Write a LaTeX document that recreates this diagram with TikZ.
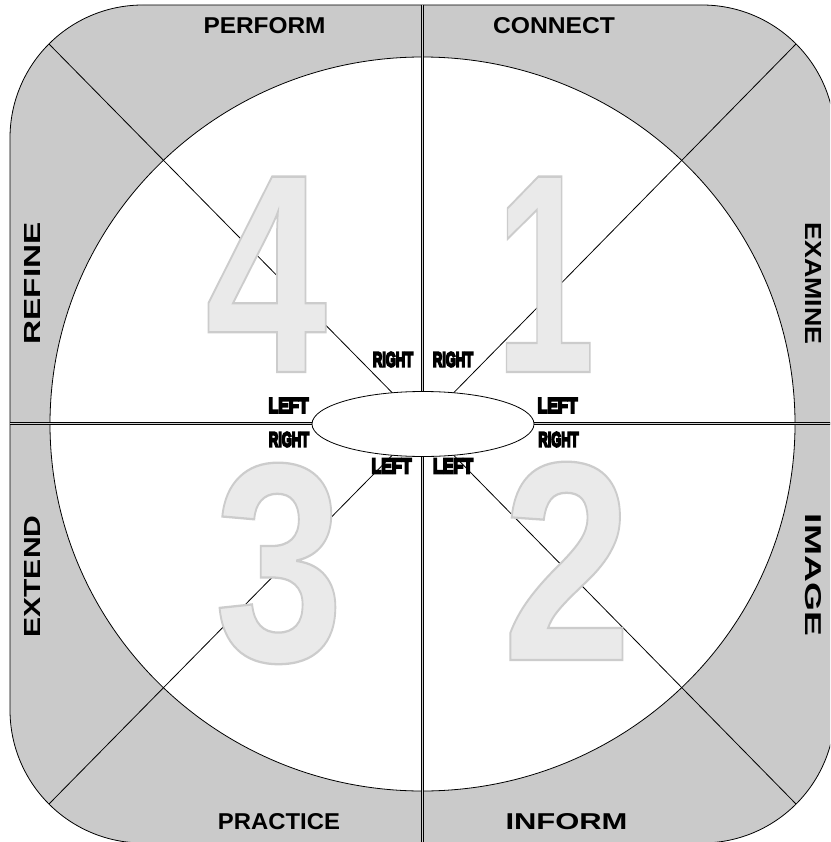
\documentclass[tikz,border=0pt]{standalone}
\usepackage{graphicx}
\usepackage{fontspec}
\setmainfont{Liberation Sans}
\newfontfamily\labfont{Liberation Sans}[UprightFont={* Bold}]
\newfontfamily\impfont{Liberation Sans}[UprightFont={* Bold}, UprightFeatures={FakeBold=10}]
\newfontfamily\digO{Liberation Sans}[UprightFont={* Bold}, UprightFeatures={FakeBold=0.8}]
\usetikzlibrary{shapes.geometric}
\definecolor{band}{RGB}{202,202,202}
\definecolor{digfill}{RGB}{234,234,234}
\definecolor{dblmid}{RGB}{205,205,205}
\newcommand{\biglab}[1]{\resizebox{122pt}{16pt}{\labfont #1}}
\newcommand{\smalllab}[1]{\resizebox{40pt}{14.5pt}{\impfont #1}}
\newcommand{\digit}[2]{\scalebox{#1}[1]{\fontsize{284}{290}\selectfont\digO\color{digfill}\special{pdf:literal direct 0.80 G}#2}}
\tikzset{
  thin line/.style={line width=0.8pt, draw=black},
  dbl/.style={line width=0.9pt, draw=black, double=dblmid, double distance=1.6pt},
  lab/.style={inner sep=0pt, outer sep=0pt},
  diglab/.style={inner sep=0pt, anchor=base}
}
\begin{document}
\begin{tikzpicture}[x=1pt,y=-1pt]
\useasboundingbox (0,0) rectangle (830,842);
\clip (0,0) rectangle (830,842);
% outer band
\draw[thin line, fill=band, rounded corners=133pt] (10,5) rectangle (835,843);
% inner circle
\draw[thin line, fill=white] (422.5,424) ellipse [x radius=372.5pt, y radius=367pt];
% named points
\coordinate (top) at (422.5,5);
\coordinate (bot) at (422.5,843);
\coordinate (lft) at (10,423.5);
\coordinate (rgt) at (835,423.5);
\coordinate (ctl) at (49,44);
\coordinate (ctr) at (796,44);
\coordinate (cbl) at (49,804);
\coordinate (cbr) at (796,804);
\coordinate (mid) at (423,424);
% double lines
\draw[dbl] (top) -- (bot);
\draw[dbl] (lft) -- (rgt);
% diagonals
\draw[thin line] (ctl) -- (mid);
\draw[thin line] (ctr) -- (mid);
\draw[thin line] (cbl) -- (mid);
\draw[thin line] (cbr) -- (mid);
% big digits
\node[diglab] (d4) at (266,372) {\digit{0.77}{4}};
\node[diglab] (d1) at (545,372) {\digit{0.63}{1}};
\node[diglab] (d3) at (279,661) {\digit{0.82}{3}};
\node[diglab] (d2) at (567,660) {\digit{0.82}{2}};
% hub ellipse
\node[ellipse, thin line, fill=white, minimum width=222pt, minimum height=65pt, inner sep=0pt] (hub) at (mid) {};
% outer labels
\node[lab] (perform) at (264.5,26) {\biglab{PERFORM}};
\node[lab] (connect) at (554,26) {\biglab{CONNECT}};
\node[lab] (practice) at (279,822) {\biglab{PRACTICE}};
\node[lab] (inform) at (566.5,822) {\biglab{INFORM}};
\node[lab, rotate=90] (refine) at (32.5,283.5) {\biglab{REFINE}};
\node[lab, rotate=90] (extend) at (32.5,576.5) {\biglab{EXTEND}};
\node[lab, rotate=-90] (examine) at (813,283.5) {\biglab{EXAMINE}};
\node[lab, rotate=-90] (image) at (813,575) {\biglab{IMAGE}};
% small labels
\node[lab] (r1) at (393,359.5) {\smalllab{RIGHT}};
\node[lab] (r2) at (453,359.5) {\smalllab{RIGHT}};
\node[lab] (l1) at (288.5,405.5) {\smalllab{LEFT}};
\node[lab] (r3) at (289,439.5) {\smalllab{RIGHT}};
\node[lab] (l2) at (557.5,405.5) {\smalllab{LEFT}};
\node[lab] (r4) at (558.5,439.5) {\smalllab{RIGHT}};
\node[lab] (l3) at (391.5,466) {\smalllab{LEFT}};
\node[lab] (l4) at (453,466) {\smalllab{LEFT}};
\end{tikzpicture}
\end{document}
